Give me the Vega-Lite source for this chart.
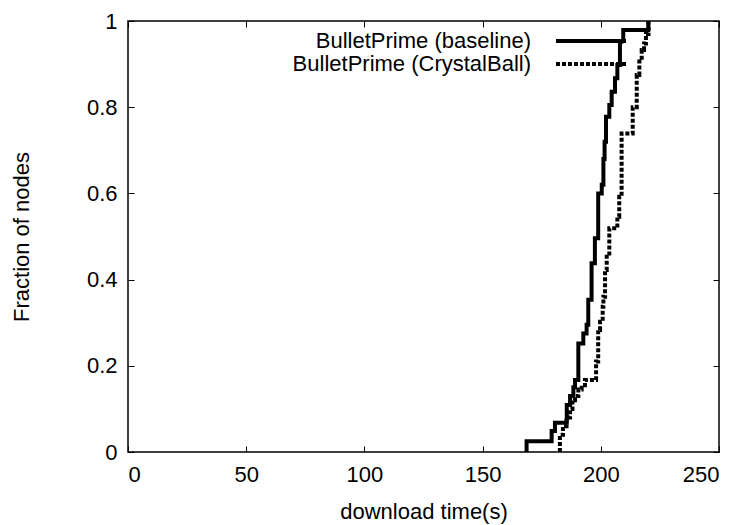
{
  "$schema": "https://vega.github.io/schema/vega-lite/v6.json",
  "width": 591,
  "height": 431,
  "autosize": "none",
  "padding": {"left": 128, "top": 21, "right": 26, "bottom": 73},
  "background": "white",
  "config": {
    "font": "Liberation Sans",
    "view": {"stroke": "black", "strokeWidth": 1.5},
    "axis": {
      "grid": false,
      "domain": false,
      "tickColor": "black",
      "tickWidth": 1,
      "tickSize": -6,
      "labelColor": "black",
      "labelFontSize": 22,
      "titleColor": "black",
      "titleFontSize": 22,
      "titleFontWeight": "normal"
    }
  },
  "data": {
    "values": [
      {"series": "BulletPrime (baseline)", "t": 168.6, "f": 0},
      {"series": "BulletPrime (baseline)", "t": 168.6, "f": 0.025},
      {"series": "BulletPrime (baseline)", "t": 179.2, "f": 0.049},
      {"series": "BulletPrime (baseline)", "t": 180.6, "f": 0.068},
      {"series": "BulletPrime (baseline)", "t": 185.6, "f": 0.109},
      {"series": "BulletPrime (baseline)", "t": 187.0, "f": 0.13},
      {"series": "BulletPrime (baseline)", "t": 188.4, "f": 0.15},
      {"series": "BulletPrime (baseline)", "t": 189.1, "f": 0.167},
      {"series": "BulletPrime (baseline)", "t": 190.5, "f": 0.252},
      {"series": "BulletPrime (baseline)", "t": 192.6, "f": 0.275},
      {"series": "BulletPrime (baseline)", "t": 194.0, "f": 0.295},
      {"series": "BulletPrime (baseline)", "t": 194.7, "f": 0.353},
      {"series": "BulletPrime (baseline)", "t": 196.1, "f": 0.438},
      {"series": "BulletPrime (baseline)", "t": 197.5, "f": 0.496},
      {"series": "BulletPrime (baseline)", "t": 198.9, "f": 0.6},
      {"series": "BulletPrime (baseline)", "t": 200.4, "f": 0.62},
      {"series": "BulletPrime (baseline)", "t": 201.1, "f": 0.68},
      {"series": "BulletPrime (baseline)", "t": 201.6, "f": 0.72},
      {"series": "BulletPrime (baseline)", "t": 202.2, "f": 0.778},
      {"series": "BulletPrime (baseline)", "t": 203.6, "f": 0.805},
      {"series": "BulletPrime (baseline)", "t": 204.6, "f": 0.836},
      {"series": "BulletPrime (baseline)", "t": 206.0, "f": 0.867},
      {"series": "BulletPrime (baseline)", "t": 207.0, "f": 0.898},
      {"series": "BulletPrime (baseline)", "t": 208.1, "f": 0.952},
      {"series": "BulletPrime (baseline)", "t": 209.5, "f": 0.979},
      {"series": "BulletPrime (baseline)", "t": 220.1, "f": 1.0},
      {"series": "BulletPrime (CrystalBall)", "t": 182.7, "f": 0},
      {"series": "BulletPrime (CrystalBall)", "t": 182.7, "f": 0.04},
      {"series": "BulletPrime (CrystalBall)", "t": 184.0, "f": 0.06},
      {"series": "BulletPrime (CrystalBall)", "t": 185.5, "f": 0.08},
      {"series": "BulletPrime (CrystalBall)", "t": 187.0, "f": 0.1},
      {"series": "BulletPrime (CrystalBall)", "t": 188.0, "f": 0.12},
      {"series": "BulletPrime (CrystalBall)", "t": 189.1, "f": 0.13},
      {"series": "BulletPrime (CrystalBall)", "t": 190.5, "f": 0.145},
      {"series": "BulletPrime (CrystalBall)", "t": 191.9, "f": 0.155},
      {"series": "BulletPrime (CrystalBall)", "t": 193.3, "f": 0.167},
      {"series": "BulletPrime (CrystalBall)", "t": 198.0, "f": 0.21},
      {"series": "BulletPrime (CrystalBall)", "t": 198.9, "f": 0.283},
      {"series": "BulletPrime (CrystalBall)", "t": 199.7, "f": 0.302},
      {"series": "BulletPrime (CrystalBall)", "t": 200.8, "f": 0.337},
      {"series": "BulletPrime (CrystalBall)", "t": 201.1, "f": 0.36},
      {"series": "BulletPrime (CrystalBall)", "t": 201.8, "f": 0.422},
      {"series": "BulletPrime (CrystalBall)", "t": 202.5, "f": 0.453},
      {"series": "BulletPrime (CrystalBall)", "t": 203.6, "f": 0.519},
      {"series": "BulletPrime (CrystalBall)", "t": 207.0, "f": 0.546},
      {"series": "BulletPrime (CrystalBall)", "t": 207.8, "f": 0.592},
      {"series": "BulletPrime (CrystalBall)", "t": 208.8, "f": 0.739},
      {"series": "BulletPrime (CrystalBall)", "t": 213.5, "f": 0.8},
      {"series": "BulletPrime (CrystalBall)", "t": 215.2, "f": 0.875},
      {"series": "BulletPrime (CrystalBall)", "t": 216.3, "f": 0.906},
      {"series": "BulletPrime (CrystalBall)", "t": 217.3, "f": 0.933},
      {"series": "BulletPrime (CrystalBall)", "t": 218.3, "f": 0.948},
      {"series": "BulletPrime (CrystalBall)", "t": 219.1, "f": 0.97},
      {"series": "BulletPrime (CrystalBall)", "t": 220.2, "f": 1.0}
    ]
  },
  "layer": [
    {
      "mark": {"type": "line", "interpolate": "step-after", "color": "black", "strokeWidth": 4, "clip": true},
      "encoding": {
        "x": {
          "field": "t", "type": "quantitative",
          "scale": {"domain": [0, 250], "nice": false, "zero": false},
          "axis": {"orient": "bottom", "values": [0, 50, 100, 150, 200, 250], "title": "download time(s)", "labelPadding": 18, "titlePadding": 16}
        },
        "y": {
          "field": "f", "type": "quantitative",
          "scale": {"domain": [0, 1], "nice": false},
          "axis": {"orient": "left", "values": [0, 0.2, 0.4, 0.6, 0.8, 1], "format": "~g", "title": "Fraction of nodes", "labelPadding": 17, "titlePadding": 53}
        },
        "strokeDash": {
          "field": "series", "type": "nominal",
          "scale": {"domain": ["BulletPrime (baseline)", "BulletPrime (CrystalBall)"], "range": [[1, 0], [4, 2]]},
          "legend": {
            "title": null,
            "orient": "none",
            "legendX": 452,
            "legendY": 9,
            "padding": 0,
            "symbolType": "M-7,0H7",
            "symbolSize": 100,
            "symbolStrokeWidth": 4,
            "symbolStrokeColor": "black",
            "symbolOpacity": 1,
            "rowPadding": 1,
            "labelAlign": "right",
            "labelOffset": -71,
            "labelFontSize": 22,
            "labelColor": "black",
            "labelLimit": 400
          }
        },
        "order": {"value": null}
      }
    },
    {
      "mark": {"type": "point", "opacity": 0},
      "encoding": {
        "x": {"field": "t", "type": "quantitative", "axis": {"orient": "top", "values": [0, 50, 100, 150, 200, 250], "labels": false, "title": null}},
        "y": {"field": "f", "type": "quantitative", "axis": {"orient": "right", "values": [0, 0.2, 0.4, 0.6, 0.8, 1], "labels": false, "title": null}}
      }
    }
  ],
  "resolve": {"axis": {"x": "independent", "y": "independent"}}
}
